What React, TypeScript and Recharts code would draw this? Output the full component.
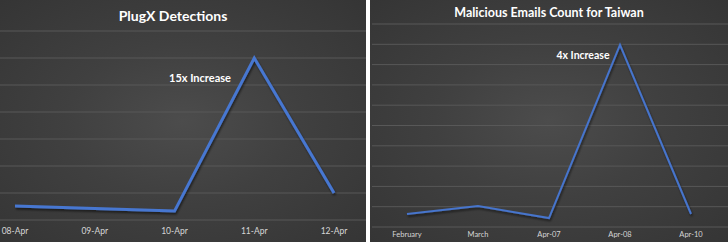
import React from "react";
import { LineChart, Line, XAxis, YAxis, CartesianGrid } from "recharts";

// PlugX detections per day
const plugxDays = ["08-Apr", "09-Apr", "10-Apr", "11-Apr", "12-Apr"];
const plugxCounts = [52, 43, 33, 600, 100];
const plugxTicks = [0, 100, 200, 300, 400, 500, 600, 700];

// Malicious emails for Taiwan
const emailPeriods = ["February", "March", "Apr-07", "Apr-08", "Apr-10"];
const emailCounts = [64, 103, 44, 897, 64];
const emailTicks = [0, 100, 200, 300, 400, 500, 600, 700, 800, 900, 1000];

const plugxData = plugxDays.map((day, i) => ({ day, count: plugxCounts[i] }));
const emailData = emailPeriods.map((period, i) => ({ period, count: emailCounts[i] }));

const FONT = "Lato, 'Open Sans', sans-serif";
const panelBg = "radial-gradient(ellipse at 50% 50%, #4c4c4c 0%, #404040 45%, #353535 100%)";

const titleStyle = (left: number, top: number, size: number): React.CSSProperties => ({
  position: "absolute",
  left,
  top,
  transform: "translateX(-50%)",
  whiteSpace: "nowrap",
  color: "#ffffff",
  fontFamily: FONT,
  fontWeight: 700,
  fontSize: size,
  lineHeight: 1,
});

const shadowDefs = (id: string) => (
  <defs>
    <filter id={id} x="-10%" y="-10%" width="120%" height="130%">
      <feDropShadow dx="1" dy="2" stdDeviation="1.2" floodColor="#000" floodOpacity="0.55" />
    </filter>
  </defs>
);

export default function App() {
  return (
    <div style={{ position: "absolute", left: 0, top: 0, width: 728, height: 242, background: "#ffffff" }}>
      {/* left panel */}
      <div style={{ position: "absolute", left: 0, top: 0, width: 366, height: 242, background: panelBg }}>
        <LineChart width={366} height={242} data={plugxData} margin={{ top: 31, right: 0, bottom: 0, left: 0 }}>
          {shadowDefs("shadowL")}
          <CartesianGrid vertical={false} stroke="#585858" strokeWidth={1} />
          <XAxis
            dataKey="day"
            height={22}
            axisLine={false}
            tickLine={false}
            padding={{ left: 15, right: 32 }}
            interval={0}
            tick={{ fill: "#d6d6d6", fontSize: 8.5, fontFamily: FONT }}
          />
          <YAxis hide domain={[0, 700]} ticks={plugxTicks} interval={0} />
          <Line
            type="linear"
            dataKey="count"
            stroke="#4777d1"
            strokeWidth={3}
            dot={false}
            filter="url(#shadowL)"
            isAnimationActive={false}
          />
        </LineChart>
        <div style={titleStyle(173, 9, 14)}>PlugX Detections</div>
        <div style={titleStyle(200, 72, 11)}>15x Increase</div>
      </div>

      {/* right panel */}
      <div style={{ position: "absolute", left: 370, top: 0, width: 358, height: 242, background: panelBg }}>
        <LineChart width={358} height={242} data={emailData} margin={{ top: 24, right: 0, bottom: 0, left: 2 }}>
          {shadowDefs("shadowR")}
          <CartesianGrid vertical={false} stroke="#585858" strokeWidth={1} />
          <XAxis
            dataKey="period"
            height={15}
            axisLine={false}
            tickLine={false}
            tickSize={0}
            tickMargin={5}
            padding={{ left: 35, right: 37 }}
            interval={0}
            tick={{ fill: "#d6d6d6", fontSize: 7.5, fontFamily: FONT }}
          />
          <YAxis hide domain={[0, 1000]} ticks={emailTicks} interval={0} />
          <Line
            type="linear"
            dataKey="count"
            stroke="#4674cc"
            strokeWidth={2}
            dot={false}
            filter="url(#shadowR)"
            isAnimationActive={false}
          />
        </LineChart>
        <div style={titleStyle(179, 7, 12.5)}>Malicious Emails Count for Taiwan</div>
        <div style={titleStyle(213, 50, 10.5)}>4x Increase</div>
      </div>
    </div>
  );
}
